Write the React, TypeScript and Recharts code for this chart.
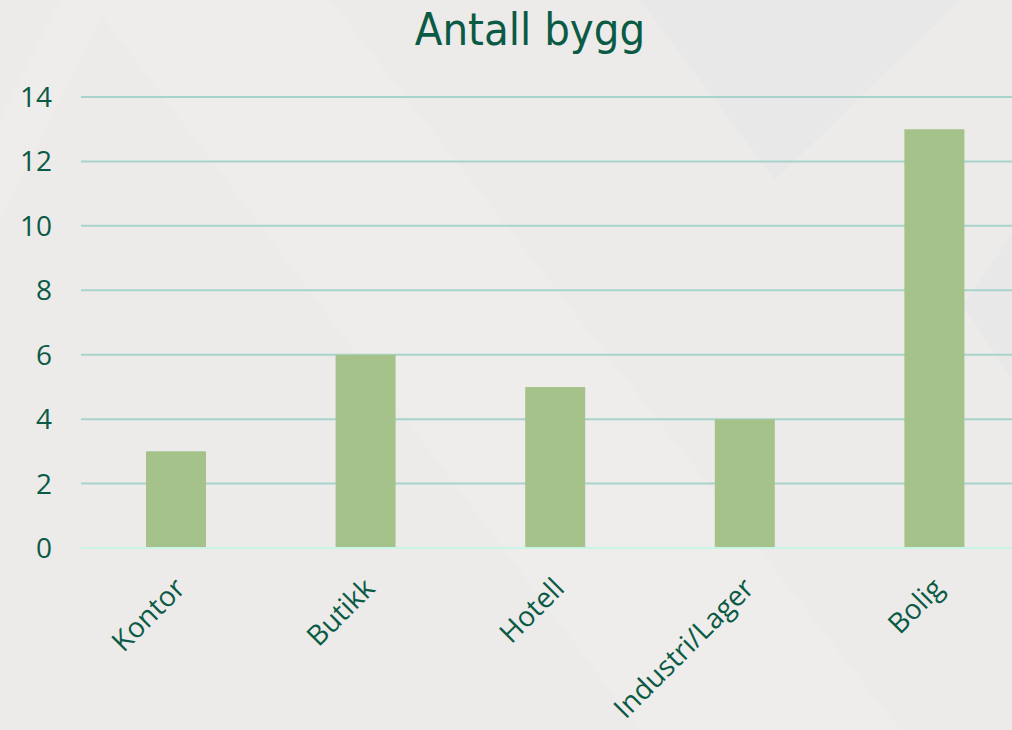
import React from "react";
import { BarChart, Bar, XAxis, YAxis, CartesianGrid } from "recharts";

const categories = ["Kontor", "Butikk", "Hotell", "Industri/Lager", "Bolig"];
const counts = [3, 6, 5, 4, 13];
const yTicks = [0, 2, 4, 6, 8, 10, 12, 14];

const data = categories.map((name, i) => ({ name, value: counts[i] }));

const TEXT = "#0b5a45";
const FONT = "'Open Sans', 'Noto Sans', sans-serif";

const CatTick = (props: any) => {
  const { x, y, payload } = props;
  const tx = x + 11;
  const ty = y + 34;
  return (
    <text
      x={tx}
      y={ty}
      textAnchor="end"
      fill={TEXT}
      fontSize={28}
      fontFamily={FONT}
      transform={`rotate(-45, ${tx}, ${ty})`}
    >
      {payload.value}
    </text>
  );
};

export default function App() {
  return (
    <div
      style={{
        position: "absolute",
        left: 0,
        top: 0,
        width: 1012,
        height: 730,
        overflow: "hidden",
        background: "#ecebe9",
      }}
    >
      <svg
        width={1012}
        height={730}
        style={{ position: "absolute", left: 0, top: 0 }}
      >
        <polygon points="90,0 330,0 900,730 640,730" fill="#eeedeb" />
        <polygon points="640,0 960,0 775,180" fill="#e7e8e7" />
        <polygon points="1012,235 963,305 1012,380" fill="#e7e8e7" />
        <polygon points="0,120 60,0 110,0 0,220" fill="#eeedeb" />
      </svg>
      <div
        style={{
          position: "absolute",
          left: 0,
          top: 1,
          width: 1060,
          textAlign: "center",
          fontFamily: "'DejaVu Sans Condensed', 'DejaVu Sans', sans-serif",
          fontStretch: "condensed",
          fontSize: 45,
          color: TEXT,
          lineHeight: "58px",
        }}
      >
        Antall bygg
      </div>
      <div style={{ position: "absolute", left: 0, top: 0 }}>
        <BarChart
          width={1040}
          height={730}
          data={data}
          margin={{ top: 97, right: 11, left: 0, bottom: 0 }}
        >
          <CartesianGrid
            vertical={false}
            stroke="#a8d3cb"
            strokeWidth={2}
          />
          <XAxis
            dataKey="name"
            height={182}
            tickLine={false}
            axisLine={{ stroke: "#c8f5e6", strokeWidth: 2 }}
            tick={<CatTick />}
            interval={0}
          />
          <YAxis
            width={81}
            domain={[0, 14]}
            ticks={yTicks}
            axisLine={false}
            tickLine={false}
            tickMargin={23}
            tick={{ fill: TEXT, fontSize: 28, fontFamily: FONT }}
          />
          <Bar
            dataKey="value"
            fill="#a4c28a"
            barSize={60}
            isAnimationActive={false}
          />
        </BarChart>
      </div>
    </div>
  );
}
